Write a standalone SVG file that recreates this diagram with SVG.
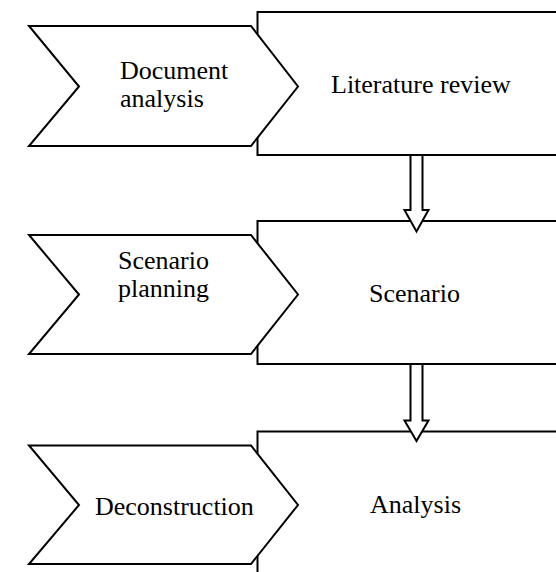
<svg xmlns="http://www.w3.org/2000/svg" width="556" height="572" viewBox="0 0 556 572">
<style>
.shape{fill:#fff;stroke:#000;stroke-width:2;stroke-linejoin:miter}
.t{font-family:"Liberation Serif","Times New Roman",serif;font-size:26px;fill:#000}
</style>
<rect width="556" height="572" fill="#fff"/>
<g id="box1"><rect class="shape" x="257.5" y="12" width="310" height="143"/>
<text class="t" x="331" y="93">Literature review</text></g>
<g id="chev1"><polygon class="shape" points="29,26 251,26 298,86.5 251,146 29,146 79,86.5"/>
<text class="t" x="120" y="79">Document</text><text class="t" x="120" y="107">analysis</text></g>
<g id="box2"><rect class="shape" x="257.5" y="221" width="310" height="143"/>
<text class="t" x="369" y="302">Scenario</text></g>
<g id="chev2"><polygon class="shape" points="29,235 251,235 298,294.5 251,354 29,354 79,294.5"/>
<text class="t" x="118" y="269">Scenario</text><text class="t" x="118" y="297">planning</text></g>
<g id="box3"><rect class="shape" x="257.5" y="431.5" width="310" height="160"/>
<text class="t" x="370" y="513">Analysis</text></g>
<g id="chev3"><polygon class="shape" points="29,445.5 251,445.5 298,505 251,564 29,564 79,505"/>
<text class="t" x="95" y="515">Deconstruction</text></g>
<g id="connectors">
<polygon class="shape" points="410.5,155 422.5,155 422.5,210 428.5,210 416.5,231.5 404.5,210 410.5,210"/>
<polygon class="shape" points="410.5,364 422.5,364 422.5,420.5 428.5,420.5 416.5,441 404.5,420.5 410.5,420.5"/>
</g>
</svg>
